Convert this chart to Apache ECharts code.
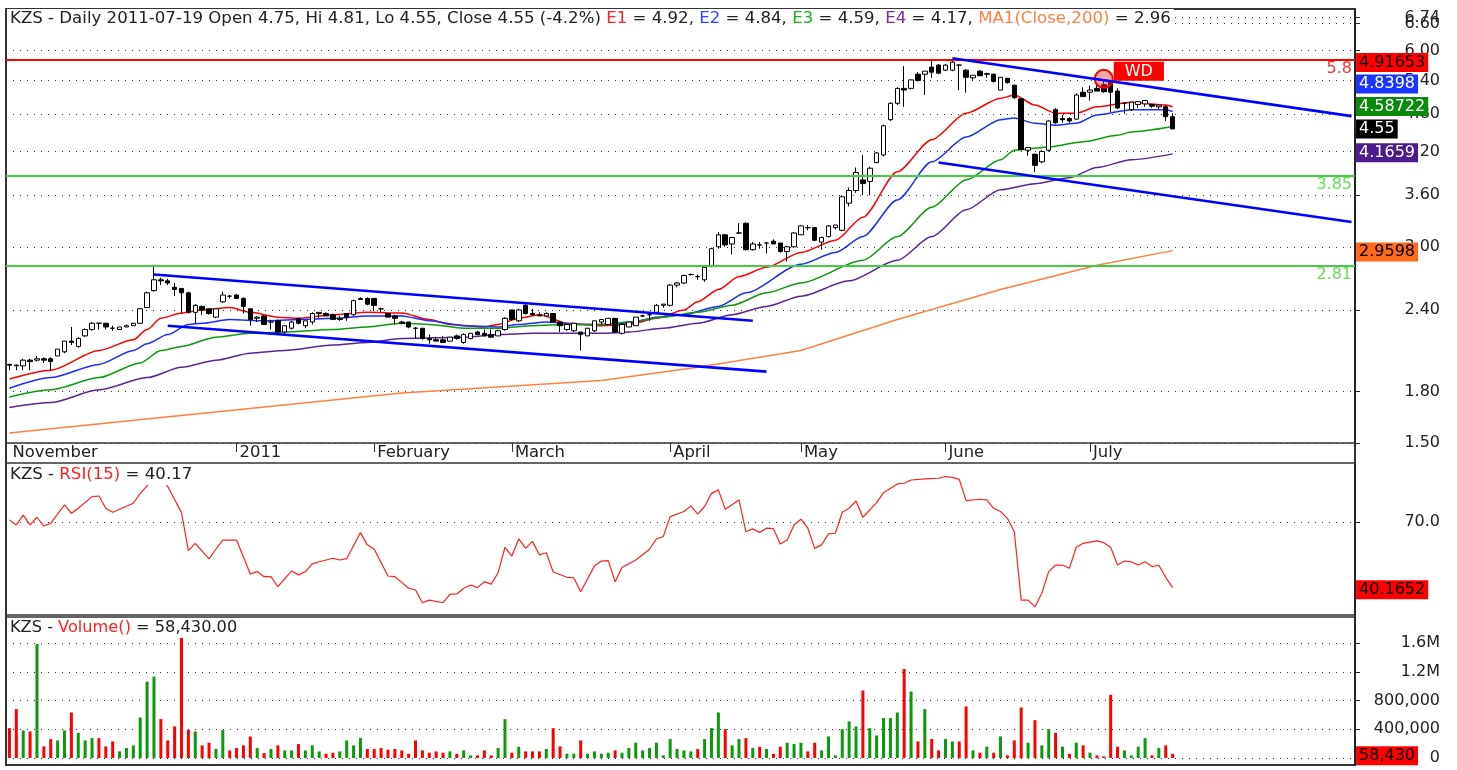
<!DOCTYPE html>
<html>
<head>
<meta charset="utf-8">
<title>KZS Daily</title>
<script src="https://cdn.jsdelivr.net/npm/echarts@6.0.0/dist/echarts.min.js"></script>
<style>
html,body{margin:0;padding:0;background:#fff;}
#chart{width:1457px;height:770px;}
</style>
</head>
<body>
<div id="chart"></div>
<script>
// ================= DATA =================
const SYMBOL = 'KZS';
const HOLIDAYS = ['2010-12-24','2010-12-31','2011-01-17','2011-04-22','2011-04-25','2011-05-30','2011-06-13'];
const FIRST_DAY = '2010-11-15';
const LAST_DAY = '2011-07-19';
const FUTURE_SLOTS = 26;

// [open, close, low, high]
const ohlc = [
[1.98,1.975,1.94,1.985],[1.97,1.975,1.94,1.98],[1.97,2.01,1.94,2.02],[2.01,2.00,1.94,2.02],[2.01,2.02,2.00,2.04],
[2.02,2.01,1.99,2.03],[2.02,2.00,1.94,2.03],[2.04,2.09,2.04,2.09],[2.07,2.15,2.06,2.15],[2.15,2.14,2.12,2.26],
[2.11,2.17,2.10,2.18],[2.19,2.24,2.18,2.25],[2.24,2.29,2.23,2.30],[2.29,2.29,2.24,2.29],[2.29,2.26,2.24,2.29],
[2.25,2.25,2.23,2.27],[2.24,2.26,2.24,2.26],[2.26,2.27,2.26,2.28],[2.27,2.29,2.27,2.29],[2.29,2.41,2.29,2.41],
[2.42,2.55,2.42,2.56],[2.57,2.67,2.56,2.81],[2.67,2.66,2.62,2.69],[2.66,2.64,2.62,2.68],[2.60,2.58,2.52,2.64],
[2.59,2.55,2.37,2.59],[2.55,2.38,2.37,2.56],[2.38,2.44,2.29,2.45],[2.43,2.40,2.36,2.44],[2.41,2.37,2.36,2.41],
[2.34,2.41,2.33,2.41],[2.47,2.53,2.46,2.56],[2.52,2.52,2.50,2.53],[2.53,2.50,2.50,2.54],[2.50,2.43,2.37,2.51],
[2.41,2.32,2.27,2.41],[2.33,2.34,2.30,2.35],[2.35,2.28,2.28,2.36],[2.30,2.30,2.24,2.32],[2.31,2.22,2.21,2.32],
[2.22,2.27,2.21,2.27],[2.25,2.30,2.24,2.31],[2.33,2.29,2.28,2.33],[2.27,2.31,2.25,2.31],[2.30,2.37,2.28,2.38],
[2.37,2.38,2.33,2.38],[2.37,2.35,2.35,2.38],[2.36,2.32,2.32,2.37],[2.32,2.33,2.31,2.35],[2.37,2.34,2.31,2.37],
[2.36,2.48,2.35,2.49],[2.49,2.50,2.49,2.51],[2.50,2.45,2.44,2.51],[2.50,2.44,2.39,2.50],[2.41,2.41,2.38,2.42],
[2.37,2.34,2.34,2.37],[2.35,2.33,2.28,2.36],[2.30,2.29,2.28,2.31],[2.30,2.26,2.25,2.30],[2.25,2.25,2.17,2.26],
[2.25,2.17,2.16,2.25],[2.17,2.16,2.13,2.20],[2.16,2.15,2.15,2.18],[2.16,2.14,2.14,2.19],[2.15,2.18,2.15,2.18],
[2.19,2.17,2.16,2.20],[2.14,2.20,2.13,2.21],[2.17,2.21,2.16,2.21],[2.22,2.20,2.20,2.23],[2.21,2.19,2.19,2.24],
[2.20,2.18,2.18,2.24],[2.19,2.23,2.19,2.24],[2.24,2.33,2.23,2.34],[2.40,2.32,2.31,2.40],[2.31,2.40,2.30,2.41],
[2.44,2.37,2.36,2.45],[2.37,2.36,2.35,2.41],[2.36,2.35,2.35,2.38],[2.35,2.37,2.35,2.38],[2.37,2.30,2.30,2.37],
[2.30,2.27,2.22,2.30],[2.24,2.28,2.23,2.28],[2.23,2.29,2.22,2.29],[2.22,2.20,2.08,2.22],[2.19,2.25,2.19,2.25],
[2.23,2.31,2.22,2.31],[2.30,2.32,2.28,2.32],[2.28,2.33,2.27,2.33],[2.33,2.22,2.21,2.33],[2.21,2.28,2.20,2.29],
[2.26,2.30,2.26,2.30],[2.27,2.34,2.27,2.34],[2.35,2.35,2.34,2.36],[2.36,2.36,2.31,2.36],[2.38,2.44,2.38,2.45],
[2.44,2.45,2.42,2.45],[2.44,2.62,2.43,2.63],[2.62,2.64,2.60,2.65],[2.64,2.71,2.63,2.72],[2.72,2.72,2.71,2.73],
[2.70,2.70,2.67,2.72],[2.67,2.79,2.65,2.79],[2.80,2.98,2.79,2.99],[3.00,3.13,2.98,3.16],[3.13,3.02,3.00,3.14],
[3.03,3.10,2.92,3.11],[3.15,3.15,3.14,3.26],[3.26,2.97,2.96,3.27],[2.97,3.03,2.96,3.05],[3.02,3.02,2.98,3.05],
[3.04,3.04,2.93,3.05],[3.06,3.03,3.03,3.08],[3.04,2.95,2.94,3.04],[2.95,3.00,2.85,3.01],[3.00,3.15,2.99,3.16],
[3.13,3.23,3.13,3.24],[3.21,3.21,3.18,3.24],[3.21,3.07,3.06,3.22],[3.05,3.10,2.97,3.11],[3.11,3.23,3.10,3.24],
[3.21,3.24,3.19,3.24],[3.18,3.58,3.17,3.60],[3.50,3.66,3.46,3.70],[3.66,3.90,3.63,3.97],[3.80,3.75,3.60,4.15],
[3.78,3.96,3.60,3.98],[4.04,4.18,4.03,4.19],[4.15,4.60,4.13,4.62],[4.70,4.98,4.68,5.00],[4.98,5.25,4.95,5.27],
[5.25,5.22,4.92,5.68],[5.25,5.41,5.23,5.42],[5.52,5.40,5.38,5.56],[5.52,5.58,5.13,5.58],[5.66,5.56,5.45,5.80],
[5.70,5.54,5.52,5.72],[5.60,5.70,5.58,5.72],[5.60,5.76,5.58,5.78],[5.70,5.70,5.22,5.72],[5.60,5.46,5.17,5.62],
[5.45,5.50,5.40,5.50],[5.58,5.49,5.48,5.60],[5.53,5.52,5.45,5.55],[5.52,5.38,5.36,5.53],[5.22,5.46,5.22,5.46],
[5.44,5.36,5.34,5.45],[5.31,5.08,5.06,5.32],[5.06,4.23,4.22,5.07],[4.22,4.26,4.14,4.27],[4.16,4.00,3.91,4.17],
[4.05,4.20,4.03,4.22],[4.22,4.68,4.20,4.69],[4.87,4.65,4.63,4.90],[4.72,4.70,4.65,4.78],[4.72,4.68,4.65,4.74],
[4.71,5.13,4.70,5.16],[5.18,5.10,5.10,5.27],[5.18,5.22,5.03,5.30],[5.25,5.20,5.20,5.33],[5.32,5.19,5.17,5.40],
[5.37,5.18,4.83,5.40],[5.20,4.90,4.88,5.25],[4.98,4.98,4.80,5.00],[4.87,5.00,4.85,5.00],[4.96,5.01,4.90,5.02],
[4.97,5.03,4.92,5.04],[4.96,4.93,4.90,4.97],[4.92,4.95,4.88,4.96],[4.92,4.75,4.68,4.95],[4.75,4.55,4.55,4.81]
];

const volume = [
416000,680000,384000,370000,1586000,162000,264000,245000,384000,634000,
351000,245000,277000,277000,162000,231000,92000,139000,176000,564000,
1064000,1133000,541000,245000,439000,1688000,393000,370000,176000,213000,
125000,388000,106000,139000,176000,300000,139000,69000,125000,176000,
106000,106000,194000,106000,176000,92000,60000,74000,92000,245000,
176000,277000,125000,125000,139000,116000,125000,106000,60000,245000,
106000,74000,92000,74000,92000,60000,106000,37000,37000,106000,
37000,139000,541000,74000,157000,92000,92000,92000,125000,416000,
162000,60000,60000,245000,60000,92000,60000,74000,106000,74000,
139000,213000,106000,139000,213000,37000,264000,125000,106000,92000,
125000,264000,416000,634000,402000,176000,264000,277000,139000,157000,
125000,60000,157000,213000,194000,213000,92000,213000,106000,300000,
37000,402000,509000,439000,939000,416000,314000,555000,555000,634000,
1239000,925000,231000,680000,264000,106000,264000,231000,231000,717000,
106000,74000,157000,74000,300000,37000,245000,703000,213000,527000,
176000,402000,351000,157000,60000,213000,176000,74000,37000,23000,
879000,157000,106000,37000,157000,277000,37000,139000,176000,58430
];

// [trading-day index, value]
const ema1 = [[0,1.88],[6,1.94],[13,2.08],[18,2.16],[20,2.24],[22,2.33],[25,2.375],[28,2.40],[32,2.42],[35,2.38],[39,2.34],[42,2.33],[47,2.36],[52,2.38],[57,2.375],[61,2.32],[64,2.28],[69,2.26],[71,2.28],[74,2.33],[77,2.36],[81,2.29],[86,2.27],[90,2.28],[94,2.33],[98,2.40],[100,2.47],[103,2.58],[106,2.70],[110,2.79],[115,2.94],[120,3.07],[124,3.33],[129,3.91],[134,4.38],[139,4.81],[144,5.07],[146,5.13],[149,4.95],[152,4.81],[155,4.81],[158,4.92],[163,5.00],[168,4.95],[169,4.91653]];
const ema2 = [[0,1.82],[6,1.89],[13,1.98],[18,2.08],[20,2.13],[23,2.20],[26,2.28],[28,2.29],[32,2.32],[37,2.31],[42,2.32],[47,2.33],[52,2.35],[57,2.35],[61,2.31],[66,2.27],[71,2.26],[74,2.28],[78,2.30],[83,2.28],[86,2.28],[90,2.29],[94,2.34],[98,2.36],[103,2.43],[107,2.55],[115,2.82],[120,2.94],[124,3.11],[129,3.54],[134,4.05],[139,4.42],[144,4.70],[146,4.73],[149,4.64],[152,4.61],[155,4.64],[158,4.78],[163,4.87],[168,4.87],[169,4.8398]];
const ema3 = [[0,1.765],[6,1.81],[13,1.89],[19,1.99],[22,2.08],[25,2.11],[30,2.18],[35,2.21],[40,2.22],[47,2.24],[52,2.26],[57,2.29],[61,2.28],[66,2.25],[71,2.25],[76,2.27],[81,2.28],[86,2.28],[90,2.30],[95,2.34],[100,2.38],[105,2.44],[110,2.55],[115,2.64],[124,2.86],[129,3.11],[134,3.45],[139,3.80],[144,4.08],[146,4.22],[151,4.27],[156,4.35],[161,4.45],[163,4.50],[169,4.58722]];
const ema4 = [[0,1.70],[6,1.73],[13,1.81],[20,1.89],[25,1.96],[30,2.01],[35,2.06],[40,2.08],[47,2.12],[52,2.14],[57,2.17],[66,2.18],[71,2.20],[76,2.21],[81,2.21],[86,2.21],[90,2.22],[95,2.25],[100,2.29],[105,2.36],[110,2.43],[115,2.52],[122,2.66],[129,2.86],[134,3.11],[139,3.42],[144,3.67],[149,3.75],[154,3.83],[158,3.97],[163,4.08],[169,4.1659]];
const ma200 = [[0,1.554],[57,1.79],[86,1.87],[100,1.96],[115,2.08],[129,2.32],[144,2.58],[158,2.81],[169,2.9598]];
const rsi15 = [[0,71.1],[1,68.8],[2,73.3],[3,68.8],[4,72.3],[5,68.3],[6,69.5],[8,77.9],[9,74.1],[10,76.4],[12,81.7],[13,82.0],[14,76.4],[15,74.6],[18,78.7],[19,83.2],[20,86.6],[21,91],[22,90],[23,86.3],[25,74.4],[26,57.1],[27,60.4],[29,53.3],[30,57.7],[31,61.9],[33,61.9],[35,46.4],[36,47.5],[37,45.2],[38,45.2],[39,40.6],[41,47.8],[42,46.0],[43,47.5],[44,51.0],[45,52.0],[47,53.6],[48,52.8],[49,53.4],[51,65.3],[52,59.7],[53,57.7],[55,45.5],[56,45.2],[58,39.9],[59,39.1],[60,33.3],[61,34.5],[63,33.3],[64,37.1],[65,37.3],[66,39.9],[67,41.4],[68,40.2],[69,42.9],[70,41.8],[71,47],[72,58.6],[73,54.6],[74,62.4],[75,58.1],[76,61.3],[77,55.1],[78,56.1],[79,47.3],[81,44.9],[82,44.7],[83,38.3],[85,50.1],[86,52.3],[87,52.5],[88,42.9],[89,49.4],[91,52.8],[93,57.7],[94,62.4],[95,63.5],[96,72.6],[98,74.9],[99,77.5],[100,73.7],[101,77.2],[102,83.2],[103,84.8],[104,75.9],[106,80.2],[107,65.7],[108,67.0],[109,65.4],[110,67.3],[111,67.1],[112,60.1],[113,61.9],[114,68.8],[115,71.4],[116,67.3],[117,58.1],[118,59.7],[119,64.7],[120,65.0],[121,74.6],[122,76.4],[123,79.7],[124,72.3],[126,79.0],[127,83.5],[129,87.5],[130,87.8],[131,89.3],[133,89.8],[135,90.1],[136,90.9],[137,90.5],[138,89.6],[139,79.9],[141,80.5],[142,80.2],[143,76.4],[144,74.9],[145,71.8],[146,65.7],[147,34.5],[148,34.5],[149,31.5],[150,37.6],[151,47.5],[152,50.5],[153,50.5],[154,49.0],[155,58.6],[156,60.4],[158,61.5],[159,60.7],[160,58.6],[161,50.5],[162,52.3],[163,52.0],[164,50.5],[165,52.0],[166,49.8],[167,50.4],[168,44.9],[169,40.1652]];

// trend lines: two anchor points [slot index, price]
const trendLines = [
  [[21,2.72],[108,2.31]],
  [[23,2.27],[110,1.93]],
  [[137,5.84],[195,4.76]],
  [[135,4.04],[195,3.275]]
];
const levelLines = [5.8, 3.85, 2.81];
const wdSignal = [159, 5.43];

// price tick labels (6.74 = last-bar high of the visible range, drawn over 6.60)
const priceTicks = [1.5,6.74,1.8,2.4,3.0,3.6,4.2,4.8,5.4,6.0,6.6];
const priceRange = [1.5, 6.95];
const rsiTicks = [70];
const rsiRange = [27.7, 97.05];
const volumeTicks = [0,400000,800000,1200000,1600000];
const volumeRange = [-97000, 1962000];

// ================= BUILD =================
function tradingDays(){
  const out=[]; let t=Date.parse(FIRST_DAY+'T00:00:00Z'); const end=Date.parse(LAST_DAY+'T00:00:00Z');
  while(t<=end){ const d=new Date(t); const wd=d.getUTCDay(); const s=d.toISOString().slice(0,10);
    if(wd!==0 && wd!==6 && HOLIDAYS.indexOf(s)<0) out.push(s); t+=86400000; }
  return out;
}
const dates = tradingDays();
const categories = dates.concat(Array.from({length:FUTURE_SLOTS},(_,k)=>'+'+(k+1)));
const LAST_SLOT = categories.length-1;
const LN = Math.log;
const MONTHS = ['January','February','March','April','May','June','July','August','September','October','November','December'];
const MIN_LABEL_GAP = 15;
function isMonthStart(i){ if(i>=dates.length) return false; if(i===0) return true; return dates[i].slice(0,7)!==dates[i-1].slice(0,7); }
function showLabel(i){ return i===0 || (isMonthStart(i) && i>=MIN_LABEL_GAP); }
function showTick(i){ return i>0 && showLabel(i); }

const FONT = 'DejaVu Sans';
const TXT = '#222';
const C = { e1:'#ff0000', e2:'#1a2cff', e3:'#0c9a0c', e4:'#5a2590', ma:'#ff8040', trend:'#0000ff', rsi:'#ff2020', up:'#0a9a0a', down:'#ff0000' };
const LEVEL_COLORS = ['#ff0000','#44cc44','#44cc44'];
const LEVEL_LABEL_COLORS = ['#ff3030','#66dd55','#66dd55'];

const lnPairs = arr => arr.map(p=>[p[0], LN(p[1])]);
const lastOf = arr => arr[arr.length-1][1];

function badge(xIdx, yVal, text, bg, fg, dy){
  return { coord:[xIdx, yVal], symbol:'rect', symbolSize:1, symbolOffset:[0,dy],
    itemStyle:{color:'rgba(0,0,0,0)'},
    label:{show:true, position:'right', distance:4, formatter:text, backgroundColor:bg, color:fg,
      padding:[2,3,1,3], fontSize:16, lineHeight:16, fontFamily:FONT} };
}

const last = ohlc[ohlc.length-1], prev = ohlc[ohlc.length-2];
const pct = ((last[1]-prev[1])/prev[1]*100).toFixed(1);
const f2 = v=>v.toFixed(2);
const priceTitle = `${SYMBOL} - Daily ${dates[dates.length-1]} Open ${f2(last[0])}, Hi ${f2(last[3])}, Lo ${f2(last[2])}, Close ${f2(last[1])} (${pct}%) `+
  `{e1|E1} = ${f2(lastOf(ema1))}, {e2|E2} = ${f2(lastOf(ema2))}, {e3|E3} = ${f2(lastOf(ema3))}, {e4|E4} = ${f2(lastOf(ema4))}, {ma|MA1(Close,200)} = ${f2(lastOf(ma200))}`;
const rsiTitle = `${SYMBOL} - {r|RSI(15)} = ${f2(lastOf(rsi15))}`;
const lastVol = volume[volume.length-1];
const volTitle = `${SYMBOL} - {r|Volume()} = ${lastVol.toLocaleString('en-US',{minimumFractionDigits:2,maximumFractionDigits:2})}`;
function makeRich(fs){
  const base = { fontSize:fs, fontFamily:FONT, lineHeight:18 };
  return {
    e1:Object.assign({color:'#ff2020'},base), e2:Object.assign({color:'#3344ff'},base),
    e3:Object.assign({color:'#22aa22'},base), e4:Object.assign({color:'#7030a0'},base),
    ma:Object.assign({color:'#ff8040'},base), r:Object.assign({color:'#ff2020'},base)
  };
}
function titleBox(text, top, fs){
  return { text, left:7, top, padding:[1,3,1,3], backgroundColor:'#fff', z:10,
    textStyle:{ fontSize:fs, fontWeight:'normal', color:TXT, fontFamily:FONT, lineHeight:18, rich:makeRich(fs) } };
}

const dotted = { show:true, lineStyle:{ type:[1,6], color:'#333', width:1 } };
const G = { left:6, right:102 };

const volData = volume.map((v,i)=>{
  const up = i===0 ? ohlc[0][1]>ohlc[0][0] : ohlc[i][1]>ohlc[i-1][1];
  return { value:v, itemStyle:{ color: up?C.up:C.down } };
});

const avgLine = (name, arr, color, bg, fg, dy, smooth) => ({
  type:'line', name, xAxisIndex:0, yAxisIndex:0, z:3, clip:false, data:lnPairs(arr), showSymbol:false, symbol:'none',
  smooth:smooth, smoothMonotone:'x',
  lineStyle:{color, width:1.5},
  markPoint:{silent:true, animation:false, data:[badge(LAST_SLOT, LN(lastOf(arr)), String(lastOf(arr)), bg, fg, dy)]}
});

const option = {
  animation:false,
  backgroundColor:'#fff',
  textStyle:{ fontFamily:FONT },
  title:[ titleBox(priceTitle, 9, 16.6), titleBox(rsiTitle, 465, 16.6), titleBox(volTitle, 618, 16.2) ],
  grid:[
    Object.assign({ top:9, height:434, show:true, borderColor:'#333', borderWidth:1.5 }, G),
    Object.assign({ top:463, height:152, show:true, borderColor:'#333', borderWidth:1.5 }, G),
    Object.assign({ top:617, height:148, show:true, borderColor:'#333', borderWidth:1.5 }, G),
    Object.assign({ top:9, bottom:5, show:true, borderColor:'#333', borderWidth:2 }, G)
  ],
  xAxis:[
    { gridIndex:0, type:'category', data:categories, boundaryGap:true,
      axisLine:{show:false},
      axisTick:{ show:true, interval:(i)=>showTick(i), alignWithLabel:true, length:9, lineStyle:{color:'#333'} },
      axisLabel:{ show:true, interval:(i)=>showLabel(i), align:'left', padding:[0,0,0,3], margin:2,
        fontSize:16.4, color:TXT, fontFamily:FONT,
        formatter:(v)=>{ const m=+v.slice(5,7); return m===1 ? v.slice(0,4) : MONTHS[m-1]; } },
      splitLine:{show:false} },
    { gridIndex:1, type:'category', data:categories, boundaryGap:true, show:false },
    { gridIndex:2, type:'category', data:categories, boundaryGap:true, show:false },
    { gridIndex:3, type:'value', show:false }
  ],
  yAxis:[
    { gridIndex:0, type:'value', position:'right', min:LN(priceRange[0]), max:LN(priceRange[1]),
      axisLine:{show:true, lineStyle:{color:'#222', width:1.5}},
      axisTick:{show:true, customValues:priceTicks.map(LN), length:5, lineStyle:{color:'#222'}},
      axisLabel:{show:true, hideOverlap:false, customValues:priceTicks.map(LN), formatter:(v)=>Math.exp(v).toFixed(2),
        align:'right', margin:85, fontSize:16, color:TXT, fontFamily:FONT},
      splitLine:dotted },
    { gridIndex:1, type:'value', position:'right', min:rsiRange[0], max:rsiRange[1],
      axisLine:{show:true, lineStyle:{color:'#222', width:1.5}},
      axisTick:{show:true, customValues:rsiTicks, length:5, lineStyle:{color:'#222'}},
      axisLabel:{show:true, customValues:rsiTicks, formatter:(v)=>v.toFixed(1),
        align:'right', margin:85, fontSize:16, color:TXT, fontFamily:FONT},
      splitLine:dotted },
    { gridIndex:2, type:'value', position:'right', min:volumeRange[0], max:volumeRange[1],
      axisLine:{show:true, lineStyle:{color:'#222', width:1.5}},
      axisTick:{show:true, customValues:volumeTicks, length:5, lineStyle:{color:'#222'}},
      axisLabel:{show:true, customValues:volumeTicks,
        formatter:(v)=> v>=1e6 ? (v/1e6)+'M' : Math.round(v).toLocaleString('en-US'),
        align:'right', margin:85, fontSize:16, color:TXT, fontFamily:FONT},
      splitLine:dotted },
    { gridIndex:3, type:'value', show:false }
  ],
  series:[
    { type:'candlestick', name:SYMBOL, xAxisIndex:0, yAxisIndex:0, z:4, clip:false,
      data: ohlc.map(d=>d.map(LN)), barWidth:5,
      itemStyle:{ color:'#fff', color0:'#000', borderColor:'#000', borderColor0:'#000', borderWidth:1 },
      markLine:{ symbol:['none','none'], silent:true, animation:false,
        data: levelLines.map((v,k)=>({ yAxis:LN(v),
          lineStyle:{ color:LEVEL_COLORS[k], width:2, type:'solid' },
          label:{ show:true, position:'insideEndBottom', formatter:String(v), color:LEVEL_LABEL_COLORS[k],
            fontSize:16, fontFamily:FONT, distance:[3,1] } })) },
      markPoint:{ silent:true, animation:false, data:[
        { coord:[wdSignal[0], LN(wdSignal[1])], symbol:'circle', symbolSize:18,
          itemStyle:{ color:'rgba(255,60,60,0.45)', borderColor:'#ff0000', borderWidth:2 },
          label:{ show:true, formatter:'WD', position:[20,-7], backgroundColor:'#ff0000', color:'#fff',
            padding:[1,11,1,11], fontSize:16, lineHeight:17, fontFamily:FONT } },
        badge(LAST_SLOT, LN(last[1]), String(last[1]), '#000', '#fff', 0)
      ] } },
    avgLine('E1', ema1, C.e1, '#ff0000', '#000', -44.5, 0.25),
    avgLine('E2', ema2, C.e2, '#1a35ff', '#fff', -27.5, 0.25),
    avgLine('E3', ema3, C.e3, '#0a8a0a', '#fff', -20, 0.25),
    avgLine('E4', ema4, C.e4, '#4b1c8c', '#fff', -1, 0.25),
    avgLine('MA1', ma200, C.ma, '#ff6a1a', '#000', 1.5, false)
  ].concat(trendLines.map((tl,k)=>({
      type:'line', name:'trend'+k, xAxisIndex:0, yAxisIndex:0, z:5, data:lnPairs(tl), showSymbol:false, symbol:'none',
      lineStyle:{color:C.trend, width:2.6} }))
  ).concat([
    { type:'line', name:'RSI', xAxisIndex:1, yAxisIndex:1, z:3, clip:false, data:rsi15, showSymbol:false, symbol:'none',
      lineStyle:{color:C.rsi, width:1.2},
      markPoint:{silent:true, animation:false, data:[badge(LAST_SLOT, lastOf(rsi15), String(lastOf(rsi15)), '#ff0000', '#000', 2)]} },
    { type:'bar', name:'Volume', xAxisIndex:2, yAxisIndex:2, z:3, clip:false, data:volData, barWidth:3,
      markPoint:{silent:true, animation:false, data:[badge(LAST_SLOT, lastVol, lastVol.toLocaleString('en-US'), '#ff0000', '#000', 2)]} }
  ])
};

const chart = echarts.init(document.getElementById('chart'), null, {renderer:'canvas'});
chart.setOption(option);
</script>
</body>
</html>
